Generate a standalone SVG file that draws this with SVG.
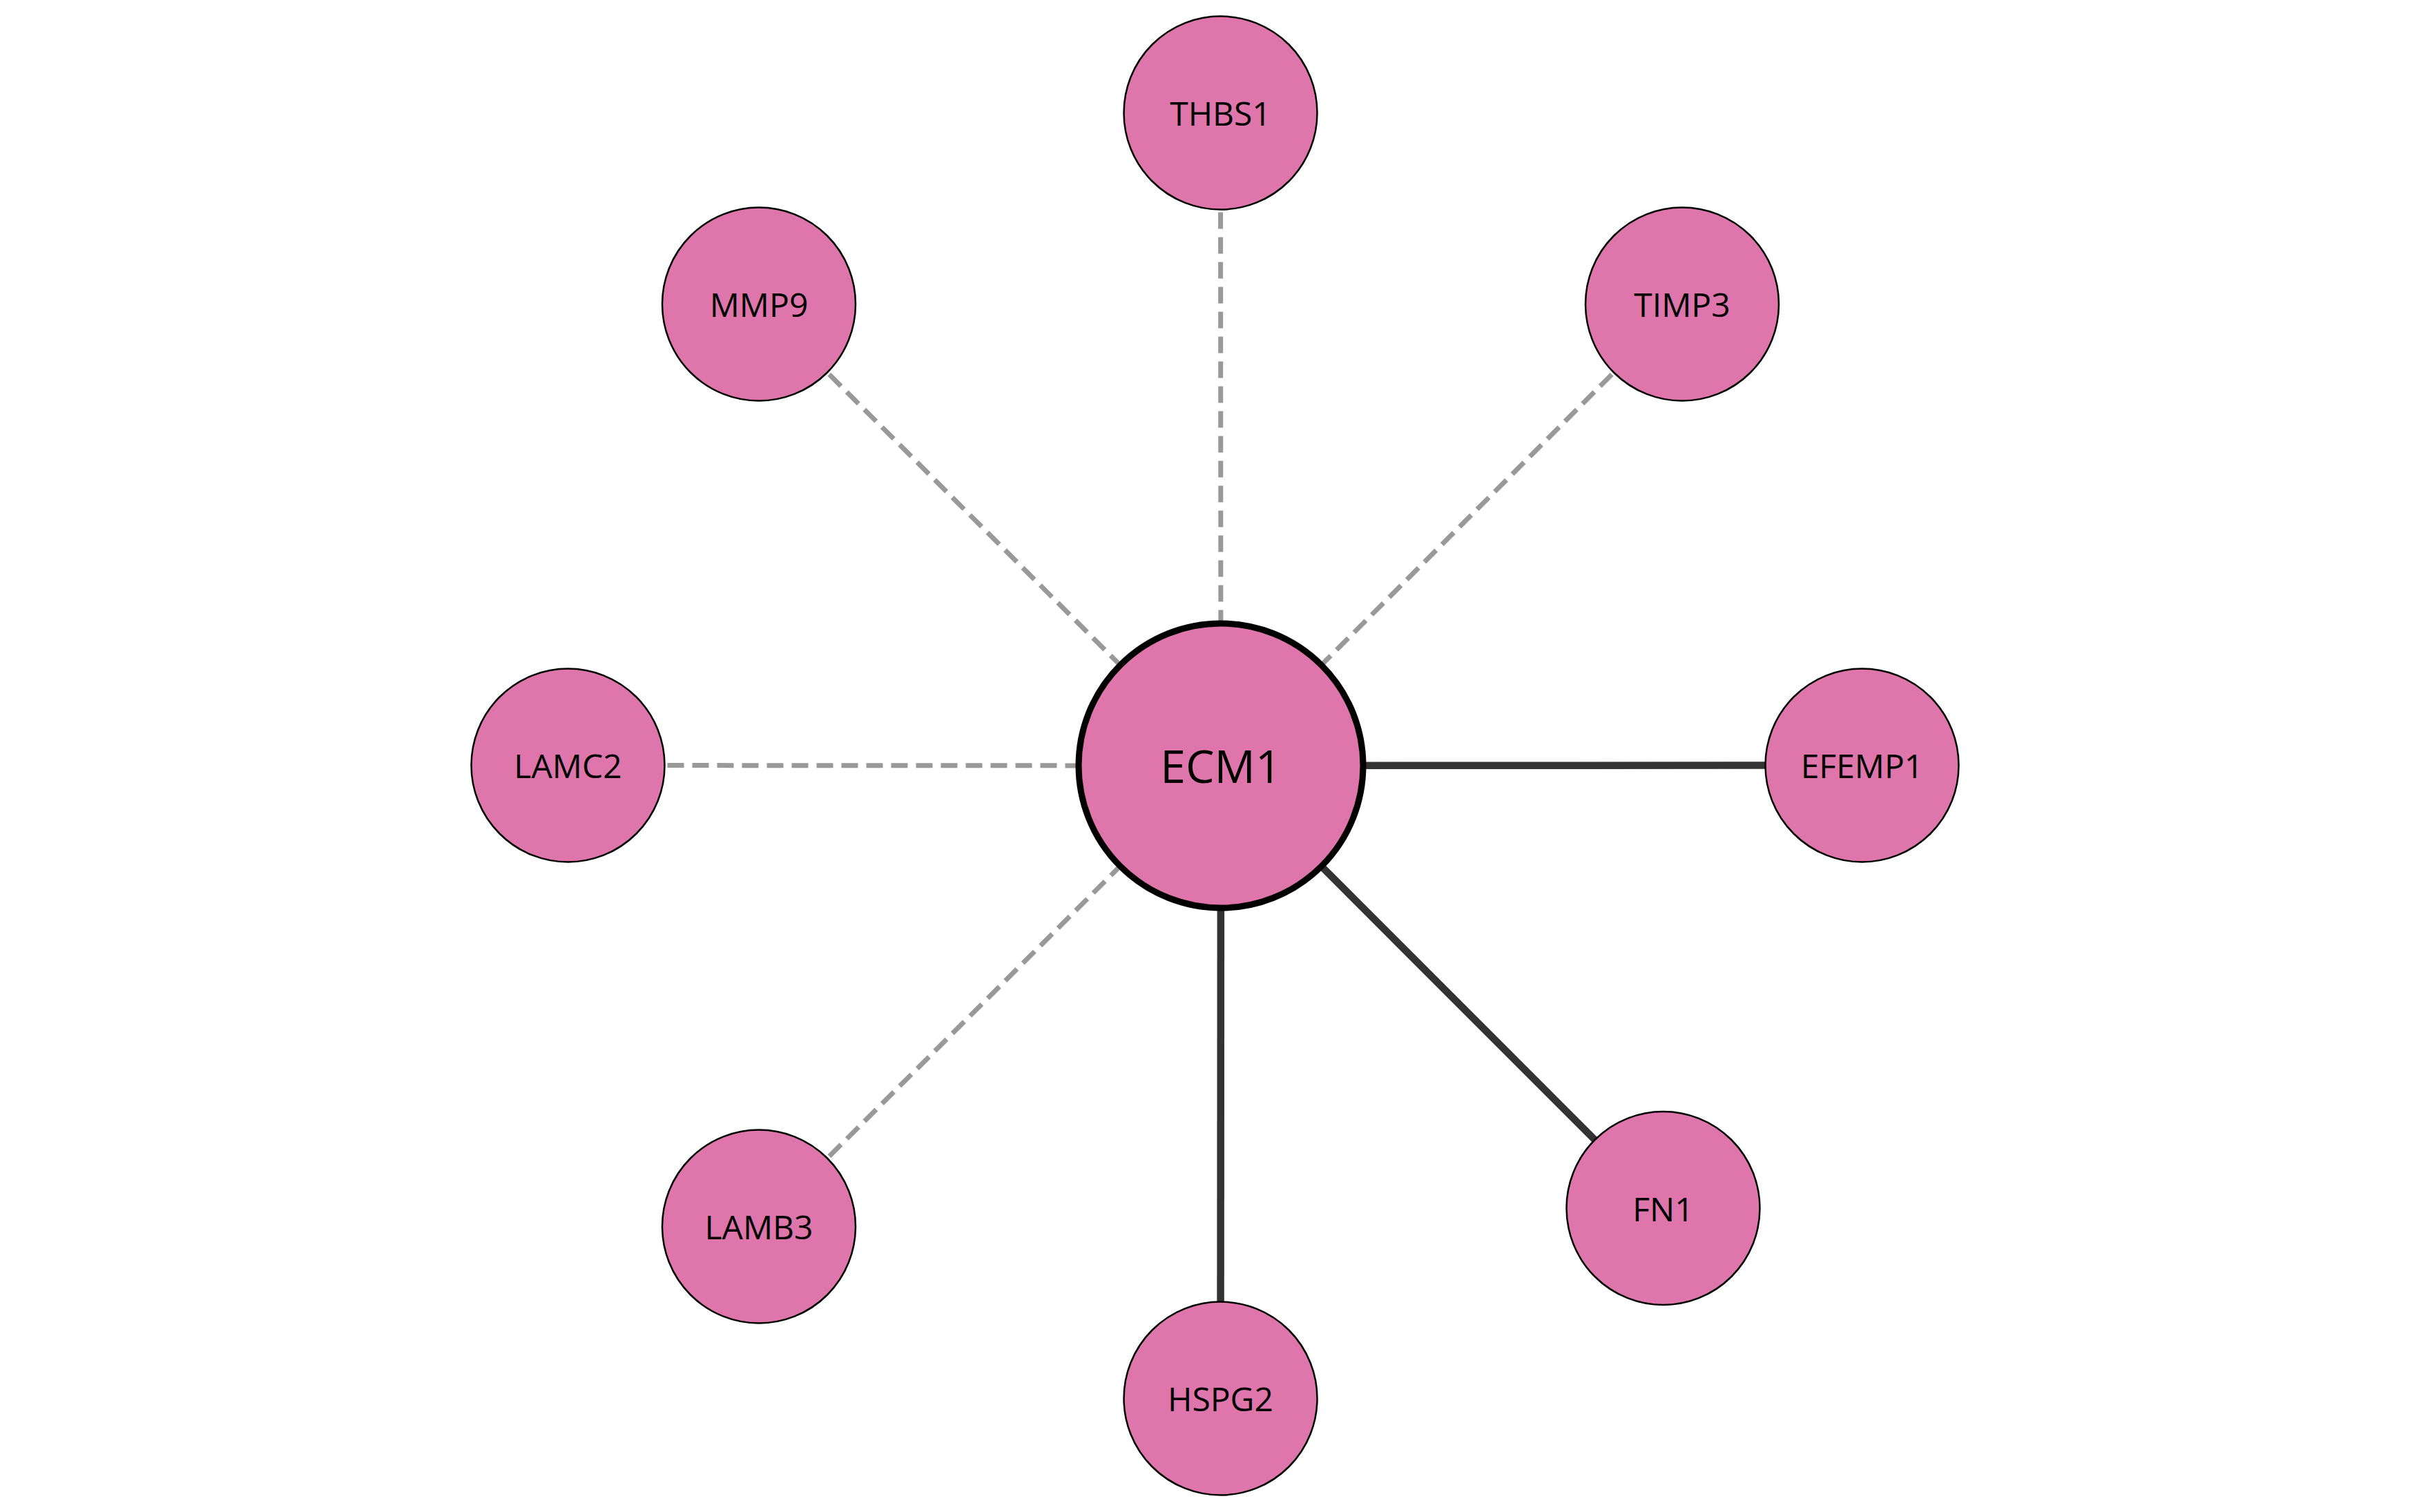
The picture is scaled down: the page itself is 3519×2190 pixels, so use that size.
<svg xmlns="http://www.w3.org/2000/svg" width="3519" height="2190" viewBox="0 0 3519 2190">
<style>
.bg{fill:#ffffff}
.node{fill:#de76ab;stroke:#000000;stroke-width:2.5}
.hub{fill:#de76ab;stroke:#000000;stroke-width:9}
.lbl{font-family:"Open Sans","Noto Sans",sans-serif;font-size:48px;fill:#000000;text-anchor:middle}
.hublbl{font-family:"Open Sans","Noto Sans",sans-serif;font-size:66px;fill:#000000;text-anchor:middle}
.dash{stroke:#999999;stroke-width:7;stroke-dasharray:24 12;fill:none}
.solid{stroke:#333333;stroke-width:10.5;fill:none}
</style>
<rect class="bg" x="0" y="0" width="3519" height="2190"/>
<g id="connectors">
<line class="dash" x1="1767.5" y1="163.5" x2="1768" y2="1109"/>
<line class="dash" x1="1099" y1="440.5" x2="1768" y2="1109"/>
<line class="dash" x1="2436" y1="440.5" x2="1768" y2="1109"/>
<line class="dash" x1="822.5" y1="1108.5" x2="1768" y2="1109"/>
<line class="dash" x1="1099" y1="1776.5" x2="1768" y2="1109"/>
<line class="solid" x1="1768" y1="1109" x2="2696.5" y2="1108.5"/>
<line class="solid" x1="1768" y1="1109" x2="2408.5" y2="1750"/>
<line class="solid" x1="1768" y1="1109" x2="1767.5" y2="2025.5"/>
</g>
<g id="node-THBS1"><circle class="node" cx="1767.5" cy="163.5" r="140"/><text class="lbl" x="1767.5" y="182">THBS1</text></g>
<g id="node-MMP9"><circle class="node" cx="1099" cy="440.5" r="140"/><text class="lbl" x="1099" y="459">MMP9</text></g>
<g id="node-TIMP3"><circle class="node" cx="2436" cy="440.5" r="140"/><text class="lbl" x="2436" y="459">TIMP3</text></g>
<g id="node-LAMC2"><circle class="node" cx="822.5" cy="1108.5" r="140"/><text class="lbl" x="822.5" y="1127">LAMC2</text></g>
<g id="node-EFEMP1"><circle class="node" cx="2696.5" cy="1108.5" r="140"/><text class="lbl" x="2696.5" y="1127">EFEMP1</text></g>
<g id="node-LAMB3"><circle class="node" cx="1099" cy="1776.5" r="140"/><text class="lbl" x="1099" y="1795">LAMB3</text></g>
<g id="node-FN1"><circle class="node" cx="2408.5" cy="1750" r="140"/><text class="lbl" x="2408.5" y="1768.5">FN1</text></g>
<g id="node-HSPG2"><circle class="node" cx="1767.5" cy="2025.5" r="140"/><text class="lbl" x="1767.5" y="2044">HSPG2</text></g>
<g id="node-ECM1"><circle class="hub" cx="1768" cy="1109" r="206"/><text class="hublbl" x="1768" y="1134">ECM1</text></g>
</svg>
